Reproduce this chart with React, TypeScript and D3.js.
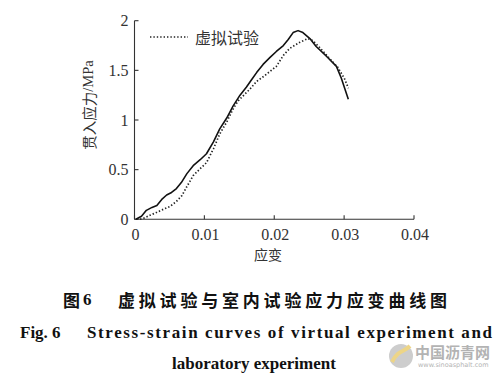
import React from "react";
import * as d3 from "d3";

// laboratory experiment (solid line)
const labStrain = [0.0002, 0.001, 0.0017, 0.0025, 0.0032, 0.0039, 0.0046, 0.0053, 0.006, 0.0067, 0.0075, 0.0084, 0.0094, 0.0103, 0.0113, 0.0122, 0.0132, 0.0141, 0.0151, 0.016, 0.0167, 0.0175, 0.0184, 0.0194, 0.0203, 0.0213, 0.022, 0.0227, 0.0234, 0.0241, 0.0251, 0.026, 0.0275, 0.0289, 0.0296, 0.0306];
const labStress = [0, 0.03, 0.09, 0.12, 0.14, 0.2, 0.245, 0.27, 0.31, 0.37, 0.46, 0.54, 0.6, 0.66, 0.78, 0.91, 1.02, 1.14, 1.25, 1.33, 1.4, 1.48, 1.56, 1.63, 1.69, 1.75, 1.81, 1.88, 1.9, 1.88, 1.82, 1.74, 1.64, 1.54, 1.42, 1.21];

// virtual experiment (dotted line)
const virStrain = [0.0008, 0.0013, 0.0022, 0.0032, 0.0041, 0.0051, 0.006, 0.0068, 0.0075, 0.0084, 0.0094, 0.0103, 0.0113, 0.0122, 0.0132, 0.0141, 0.0148, 0.0155, 0.0165, 0.0175, 0.0185, 0.0194, 0.0203, 0.0213, 0.0222, 0.0236, 0.0248, 0.0255, 0.0265, 0.0279, 0.0291, 0.0301, 0.0306];
const virStress = [0, 0.01, 0.04, 0.07, 0.1, 0.13, 0.18, 0.24, 0.33, 0.44, 0.51, 0.57, 0.71, 0.86, 0.98, 1.11, 1.19, 1.24, 1.31, 1.39, 1.44, 1.49, 1.54, 1.65, 1.72, 1.78, 1.82, 1.8, 1.73, 1.62, 1.53, 1.41, 1.32];

const xTicks = [0, 0.01, 0.02, 0.03, 0.04];
const yTicks = [0, 0.5, 1, 1.5, 2];
const xTickLabels = ["0", "0.01", "0.02", "0.03", "0.04"];
const yTickLabels = ["0", "0.5", "1", "1.5", "2"];

const legendLabel = "虚拟试验";
const xTitle = "应变";
const captionCn = "虚拟试验与室内试验应力应变曲线图";

const serif = "'Liberation Serif', 'DejaVu Serif', serif";
const cjk = "'Noto Sans CJK SC', sans-serif";

export default function App() {
  const x = d3.scaleLinear().domain([0, 0.04]).range([134.5, 414]);
  const y = d3.scaleLinear().domain([0, 2]).range([219.3, 20.7]);

  const labPath = d3.line<number>().x((d) => x(d)).y((_, i) => y(labStress[i]))(labStrain) || "";
  const virPath = d3.line<number>().x((d) => x(d)).y((_, i) => y(virStress[i]))(virStrain) || "";

  const axisColor = "#333";

  return (
    <svg width={504} height={386} style={{ position: "absolute", left: 0, top: 0, background: "#fff" }}>
      {/* axes */}
      <line x1={x(0)} x2={x(0)} y1={y(0)} y2={y(2)} stroke={axisColor} strokeWidth={1.1} />
      <line x1={x(0)} x2={x(0.04)} y1={y(0)} y2={y(0)} stroke={axisColor} strokeWidth={1.1} />
      {yTicks.map((t, i) => (
        <g key={"y" + i}>
          <line x1={x(0)} x2={x(0) + 4} y1={y(t)} y2={y(t)} stroke={axisColor} strokeWidth={1.1} />
          <text x={x(0) - 6} y={y(t)} textAnchor="end" dominantBaseline="central" fontFamily={serif} fontSize={16} fill="#333">
            {yTickLabels[i]}
          </text>
        </g>
      ))}
      {xTicks.map((t, i) => (
        <g key={"x" + i}>
          <line x1={x(t)} x2={x(t)} y1={y(0)} y2={y(0) - 4} stroke={axisColor} strokeWidth={1.1} />
          <text x={x(t) + 1} y={y(0) + 15.5} textAnchor="middle" dominantBaseline="central" fontFamily={serif} fontSize={16} fill="#333">
            {xTickLabels[i]}
          </text>
        </g>
      ))}

      {/* axis titles */}
      <text x={268} y={254} textAnchor="middle" dominantBaseline="central" fontFamily={cjk} fontSize={14} fill="#333">
        {xTitle}
      </text>
      <text
        transform={`translate(88,105) rotate(-90)`}
        textAnchor="middle"
        dominantBaseline="central"
        fontFamily={cjk}
        fontSize={14.5}
        fill="#333"
      >
        贯入应力<tspan fontFamily={serif}>/MPa</tspan>
      </text>

      {/* curves */}
      <path d={labPath} fill="none" stroke="#111" strokeWidth={1.6} strokeLinejoin="round" />
      <path d={virPath} fill="none" stroke="#222" strokeWidth={1.7} strokeDasharray="1.4,2" />

      {/* legend */}
      <line x1={150} x2={188} y1={37} y2={37} stroke="#222" strokeWidth={1.7} strokeDasharray="1.4,2" />
      <text x={195} y={37} dominantBaseline="central" fontFamily={cjk} fontSize={16} fill="#333">
        {legendLabel}
      </text>

      {/* caption */}
      <text x={63} y={299} dominantBaseline="central" fontFamily={cjk} fontWeight="bold" fontSize={17} fill="#111">
        图<tspan dx={3} fontFamily={serif}>6</tspan>
      </text>
      <text x={118} y={299} dominantBaseline="central" fontFamily={cjk} fontWeight="bold" fontSize={17} fill="#111" textLength={329} lengthAdjust="spacing">
        {captionCn}
      </text>
      <text x={20} y={332} dominantBaseline="central" fontFamily={serif} fontWeight="bold" fontSize={17} fill="#111">
        Fig. 6
      </text>
      <text x={87} y={332} dominantBaseline="central" fontFamily={serif} fontWeight="bold" fontSize={17} fill="#111" textLength={405} lengthAdjust="spacing">
        Stress-strain curves of virtual experiment and
      </text>
      <text x={254} y={363} textAnchor="middle" dominantBaseline="central" fontFamily={serif} fontWeight="bold" fontSize={17} fill="#111">
        laboratory experiment
      </text>

      {/* watermark */}
      <g opacity={0.75}>
        <circle cx={401} cy={356} r={12} fill="#bdbdbd" />
        <path d="M392,362 C398,350 404,352 410,346" stroke="#e8c860" strokeWidth={4} fill="none" />
        <text x={415} y={351} dominantBaseline="central" fontFamily={cjk} fontWeight="bold" fontSize={15} fill="#9a9a9a">
          中国沥青网
        </text>
        <text x={418} y={365} dominantBaseline="central" fontFamily="'DejaVu Sans', sans-serif" fontSize={6.5} fill="#9a9a9a">
          www.sinoasphalt.com
        </text>
      </g>
    </svg>
  );
}
